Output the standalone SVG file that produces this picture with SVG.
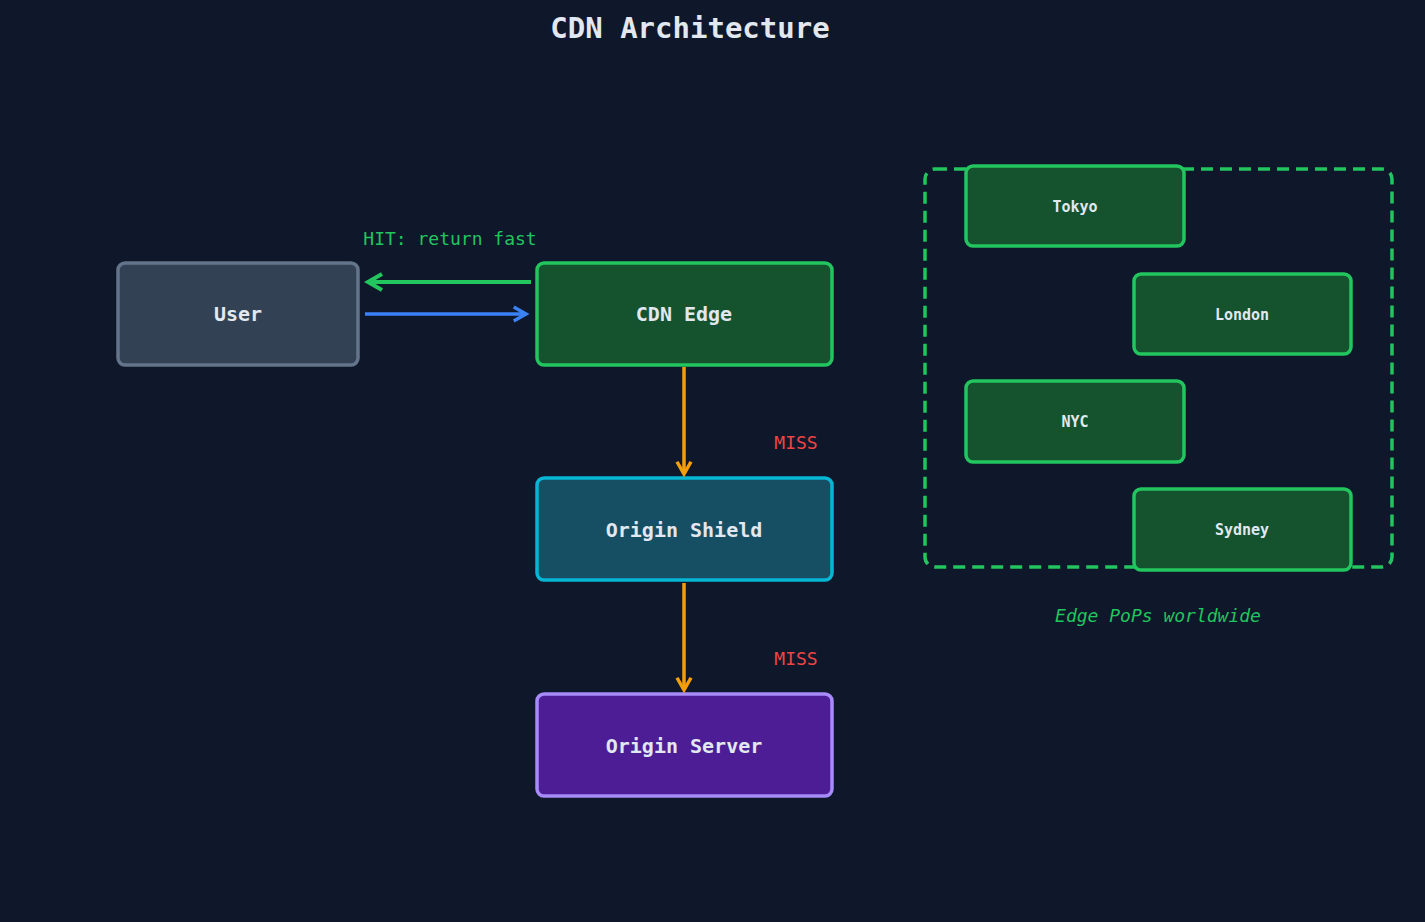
<svg xmlns="http://www.w3.org/2000/svg" width="1425" height="922" viewBox="0 0 1425 922">
<defs>
<style>
text{font-family:"DejaVu Sans Mono","Liberation Mono",monospace;text-anchor:middle}
.n{stroke-width:3.5}
.t{fill:#e2e8f0;font-weight:bold;font-size:20px}
.s{fill:#e2e8f0;font-weight:bold;font-size:15px}
.pop{fill:#14532d;stroke:#22c55e;stroke-width:3.5}
.miss{fill:#ef4444;font-size:18px}
</style>
<marker id="ag" viewBox="0 0 10 10" refX="8" refY="5" markerWidth="5" markerHeight="5" orient="auto"><path d="M1,1 L8,5 L1,9" fill="none" stroke="#22c55e" stroke-width="2"/></marker>
<marker id="ab" viewBox="0 0 10 10" refX="8" refY="5" markerWidth="5" markerHeight="5" orient="auto"><path d="M1,1 L8,5 L1,9" fill="none" stroke="#3b82f6" stroke-width="2"/></marker>
<marker id="ao" viewBox="0 0 10 10" refX="8" refY="5" markerWidth="5" markerHeight="5" orient="auto"><path d="M1,1 L8,5 L1,9" fill="none" stroke="#f59e0b" stroke-width="2"/></marker>
</defs>
<rect width="1425" height="922" fill="#0f172a"/>
<text x="690" y="38" style="fill:#e2e8f0;font-size:29px;font-weight:bold">CDN Architecture</text>
<rect x="925" y="169" width="467" height="398" rx="10" fill="none" stroke="#22c55e" stroke-width="3.5" stroke-dasharray="12,7"/>
<text x="1158" y="622" style="fill:#22c55e;font-size:18px;font-style:italic">Edge PoPs worldwide</text>
<g id="user"><rect class="n" x="118" y="263" width="240" height="102" rx="7" fill="#334155" stroke="#64748b"/><text class="t" x="238" y="321">User</text></g>
<g id="edge"><rect class="n" x="537" y="263" width="295" height="102" rx="7" fill="#14532d" stroke="#22c55e"/><text class="t" x="684" y="321">CDN Edge</text></g>
<g id="shield"><rect class="n" x="537" y="478" width="295" height="102" rx="7" fill="#164e63" stroke="#06b6d4"/><text class="t" x="684" y="537">Origin Shield</text></g>
<g id="server"><rect class="n" x="537" y="694" width="295" height="102" rx="7" fill="#4c1d95" stroke="#a78bfa"/><text class="t" x="684" y="753">Origin Server</text></g>
<g id="tokyo"><rect class="pop" x="966" y="166" width="218" height="80" rx="7"/><text class="s" x="1075" y="212">Tokyo</text></g>
<g id="london"><rect class="pop" x="1134" y="274" width="217" height="80" rx="7"/><text class="s" x="1242" y="320">London</text></g>
<g id="nyc"><rect class="pop" x="966" y="381" width="218" height="81" rx="7"/><text class="s" x="1075" y="427">NYC</text></g>
<g id="sydney"><rect class="pop" x="1134" y="489" width="217" height="81" rx="7"/><text class="s" x="1242" y="535">Sydney</text></g>
<g id="connectors" fill="none" stroke-width="4">
<line x1="531" y1="282" x2="368" y2="282" stroke="#22c55e" marker-end="url(#ag)"/>
<line x1="365" y1="314" x2="526" y2="314" stroke="#3b82f6" stroke-width="3.5" marker-end="url(#ab)"/>
<line x1="684" y1="367" x2="684" y2="474" stroke="#f59e0b" stroke-width="3.5" marker-end="url(#ao)"/>
<line x1="684" y1="583" x2="684" y2="690" stroke="#f59e0b" stroke-width="3.5" marker-end="url(#ao)"/>
</g>
<text x="450" y="245" style="fill:#22c55e;font-size:18px">HIT: return fast</text>
<text class="miss" x="796" y="449">MISS</text>
<text class="miss" x="796" y="665">MISS</text>
</svg>
